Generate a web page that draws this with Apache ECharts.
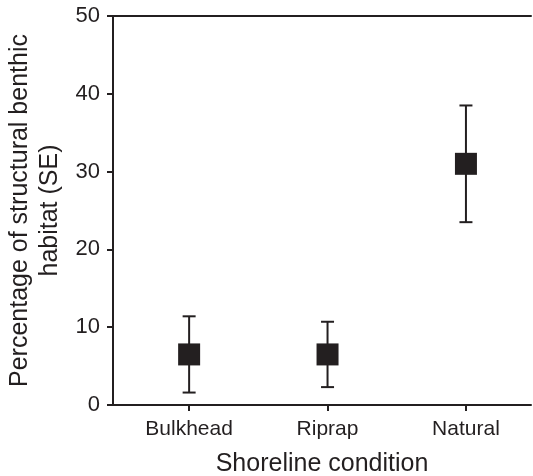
<!DOCTYPE html>
<html>
<head>
<meta charset="utf-8">
<script src="https://cdn.jsdelivr.net/npm/echarts@6/dist/echarts.min.js"></script>
<style>
  html, body { margin: 0; padding: 0; background: #fff; }
  #chart { width: 533px; height: 476px; }
</style>
</head>
<body>
<div id="chart"></div>
<script>
// shoreline categories and habitat % (mean with SE bar ends)
var categories = ["Bulkhead", "Riprap", "Natural"];
var means = [6.5, 6.5, 31.0];
var upper = [11.4, 10.7, 38.5];
var lower = [1.6, 2.3, 23.5];
var yTicks = [0, 10, 20, 30, 40, 50];

var ink = "#231f20";
var font = "Liberation Sans, Arial, Helvetica, sans-serif";

var pos = categories.map(function (c, i) { return i + 1; });

var barData = [];
var pointData = [];
for (var i = 0; i < categories.length; i++) {
  barData.push([pos[i], lower[i], upper[i]]);
  pointData.push([pos[i], means[i]]);
}

var myChart = echarts.init(document.getElementById("chart"));

var options = {
  animation: false,
  grid: {
    left: 113,
    right: 2,
    top: 16,
    bottom: 71,
    containLabel: false,
    outerBoundsMode: "none"
  },
  xAxis: [
    {
      type: "value",
      min: 0.45,
      max: 3.47,
      name: "Shoreline condition",
      nameLocation: "middle",
      nameGap: 47,
      nameTextStyle: { fontSize: 25, color: ink, fontFamily: font },
      axisLine: { lineStyle: { color: ink, width: 2 } },
      axisTick: {
        show: true,
        length: 6,
        customValues: pos,
        lineStyle: { color: ink, width: 2 }
      },
      axisLabel: {
        customValues: pos,
        margin: 14,
        fontSize: 21,
        color: ink,
        fontFamily: font,
        formatter: function (v) {
          return categories[Math.round(v) - 1] || "";
        }
      },
      splitLine: { show: false }
    },
    {
      // top frame line only
      type: "value",
      position: "top",
      min: 0.45,
      max: 3.47,
      axisLine: { show: true, lineStyle: { color: ink, width: 2 } },
      axisTick: { show: false },
      axisLabel: { show: false },
      splitLine: { show: false }
    }
  ],
  yAxis: {
    type: "value",
    min: 0,
    max: 50,
    interval: 10,
    name: "Percentage of structural benthic\nhabitat (SE)",
    nameLocation: "middle",
    nameGap: 42,
    nameTextStyle: { fontSize: 25, lineHeight: 30, color: ink, fontFamily: font },
    axisLine: { show: true, lineStyle: { color: ink, width: 2 } },
    axisTick: { show: true, length: 6, lineStyle: { color: ink, width: 2 } },
    axisLabel: {
      margin: 13,
      fontSize: 22,
      color: ink,
      fontFamily: font,
      customValues: yTicks
    },
    splitLine: { show: false }
  },
  series: [
    {
      name: "SE",
      type: "custom",
      data: barData,
      renderItem: function (params, api) {
        var x = api.value(0);
        var lo = api.coord([x, api.value(1)]);
        var hi = api.coord([x, api.value(2)]);
        var cap = 6.5;
        var style = { stroke: ink, lineWidth: 2, fill: null };
        return {
          type: "group",
          children: [
            { type: "line", shape: { x1: lo[0], y1: lo[1], x2: hi[0], y2: hi[1] }, style: style },
            { type: "line", shape: { x1: hi[0] - cap, y1: hi[1], x2: hi[0] + cap, y2: hi[1] }, style: style },
            { type: "line", shape: { x1: lo[0] - cap, y1: lo[1], x2: lo[0] + cap, y2: lo[1] }, style: style }
          ]
        };
      },
      z: 2
    },
    {
      name: "Mean",
      type: "scatter",
      symbol: "rect",
      symbolSize: 22,
      itemStyle: { color: ink, opacity: 1 },
      data: pointData,
      z: 3
    }
  ]
};

myChart.setOption(options);
</script>
</body>
</html>
